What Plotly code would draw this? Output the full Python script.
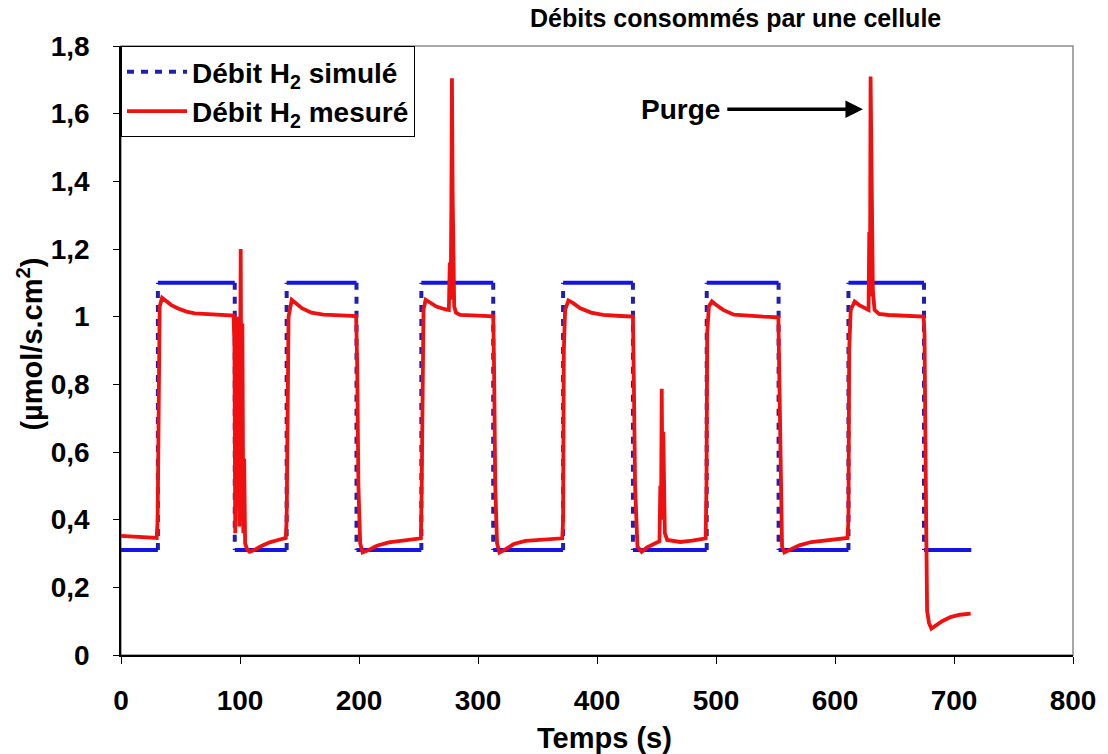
import plotly.graph_objects as go

# Simulated H2 flow: square wave between two levels, switching at these instants (s)
sim_start = 0.0
sim_end = 714.5
sim_switch_times = [31.0, 95.6, 139.2, 197.9, 252.4, 312.8, 371.5, 430.2, 492.2, 552.6, 611.3, 674.8]
sim_low = 0.31
sim_high = 1.10

# Measured H2 flow (s, µmol/s.cm²)
meas_time = [
    0, 10, 20, 30, 30.8, 31.3, 31.8, 32.5, 34.5, 38, 42, 48, 55, 62, 70, 80, 90, 94.6,
    95.3, 96.0, 96.7, 97.4, 98.1, 98.8, 99.5, 100.6, 101.3, 102.0, 102.8, 103.5, 104.3,
    106, 108, 112, 118, 125, 132, 138.5,
    139.2, 139.8, 140.8, 143.5, 147, 152, 160, 170, 185, 197.6,
    198.5, 199.5, 201, 203, 208, 215, 225, 240, 252,
    252.7, 253.3, 254.2, 256, 260, 265, 272, 275.5, 276.3, 277.0, 277.6, 278.1, 278.7,
    279.3, 280.0, 281.5, 285, 300, 312.8,
    313.5, 314.5, 316, 318, 322, 330, 340, 355, 370.8,
    371.5, 372.1, 373.2, 376, 380, 386, 395, 405, 420, 430.2,
    431, 432, 434, 437.5, 442, 448, 452.5, 453.2, 453.8, 454.4, 455.0, 455.7, 457, 459,
    470, 480, 491.3,
    492.0, 492.6, 494, 496.5, 500, 506, 515, 530, 540, 552.4,
    553.2, 554.2, 555.5, 557.5, 562, 570, 580, 595, 610.5,
    611.3, 611.9, 613.2, 616.5, 620, 625, 628.2, 628.8, 629.4, 629.9, 630.5, 631.1,
    631.8, 633.2, 637, 645, 660, 674.5,
    675.2, 675.8, 676.6, 677.4, 679, 681, 685, 690, 697, 705, 714,
]
meas_flow = [
    0.352, 0.350, 0.348, 0.346, 0.40, 0.66, 0.98, 1.03, 1.056, 1.045, 1.035, 1.024, 1.015, 1.010, 1.008, 1.006, 1.005, 1.003,
    0.92, 0.36, 0.62, 1.00, 0.45, 0.88, 0.38, 1.20, 0.52, 0.98, 0.36, 0.58, 0.33,
    0.312, 0.305, 0.310, 0.322, 0.333, 0.340, 0.346,
    0.40, 0.68, 1.00, 1.050, 1.040, 1.025, 1.012, 1.006, 1.004, 1.002,
    0.85, 0.50, 0.33, 0.303, 0.310, 0.323, 0.333, 0.340, 0.345,
    0.50, 0.90, 1.02, 1.050, 1.040, 1.030, 1.022, 1.020, 1.16, 1.05, 1.32, 1.705, 1.36,
    1.16, 1.03, 1.012, 1.005, 1.003, 1.001,
    0.85, 0.50, 0.33, 0.303, 0.310, 0.328, 0.337, 0.342, 0.345,
    0.40, 0.90, 1.02, 1.048, 1.040, 1.025, 1.012, 1.005, 1.002, 1.000,
    0.80, 0.50, 0.32, 0.305, 0.318, 0.328, 0.336, 0.50, 0.40, 0.787, 0.48, 0.66, 0.36, 0.340,
    0.334, 0.338, 0.345,
    0.50, 0.95, 1.03, 1.045, 1.035, 1.020, 1.006, 1.001, 1.000, 0.998,
    0.80, 0.45, 0.32, 0.303, 0.310, 0.324, 0.334, 0.340, 0.346,
    0.40, 0.90, 1.02, 1.045, 1.035, 1.026, 1.020, 1.25, 1.06, 1.71, 1.40, 1.27,
    1.08, 1.020, 1.008, 1.005, 1.003, 1.000,
    0.95, 0.80, 0.40, 0.13, 0.095, 0.078, 0.088, 0.100, 0.112, 0.119, 0.122,
]

y_tick_values = [0, 0.2, 0.4, 0.6, 0.8, 1.0, 1.2, 1.4, 1.6, 1.8]
y_tick_labels = ["0", "0,2", "0,4", "0,6", "0,8", "1", "1,2", "1,4", "1,6", "1,8"]
x_tick_values = [0, 100, 200, 300, 400, 500, 600, 700, 800]

# Build the step outline of the simulated signal: flat parts and vertical switches
edges = [sim_start] + sim_switch_times + [sim_end]
flat_x, flat_y, jump_x, jump_y = [], [], [], []
level = sim_low
for i in range(len(edges) - 1):
    flat_x += [edges[i], edges[i + 1], None]
    flat_y += [level, level, None]
    if i < len(sim_switch_times):
        nxt = sim_high if level == sim_low else sim_low
        jump_x += [edges[i + 1], edges[i + 1], None]
        jump_y += [level, nxt, None]
        level = nxt

BLUE = "#1414E6"
RED = "#F01010"
FONT = "Liberation Sans, Arial, sans-serif"

fig = go.Figure()
fig.add_trace(go.Scatter(
    x=jump_x, y=jump_y, mode="lines", name="Débit H<sub>2</sub> simulé",
    line=dict(color="#2020B0", width=4, dash="7px,7px"), legendrank=1,
))
fig.add_trace(go.Scatter(
    x=flat_x, y=flat_y, mode="lines", showlegend=False,
    line=dict(color=BLUE, width=4),
))
fig.add_trace(go.Scatter(
    x=meas_time, y=meas_flow, mode="lines", name="Débit H<sub>2</sub> mesuré",
    line=dict(color=RED, width=3.8), legendrank=2,
))

fig.update_layout(
    width=1108, height=754,
    margin=dict(l=121, r=33, t=46, b=99),
    paper_bgcolor="white", plot_bgcolor="white",
    font=dict(family=FONT, size=28, color="black", weight="bold"),
    showlegend=True,
    legend=dict(
        x=0, y=1, xanchor="left", yanchor="top",
        bgcolor="white", bordercolor="black", borderwidth=1,
        font=dict(family=FONT, size=28, weight="bold"),
        tracegroupgap=0, itemwidth=60,
    ),
    xaxis=dict(
        range=[0, 800], tickvals=x_tick_values, showgrid=False, zeroline=False,
        showline=True, linecolor="black", linewidth=1.5,
        ticks="outside", ticklen=7, tickwidth=1.2, tickcolor="black",
        ticklabelstandoff=13,
    ),
    yaxis=dict(
        range=[0, 1.8], tickvals=y_tick_values, ticktext=y_tick_labels,
        showgrid=False, zeroline=False,
        showline=True, linecolor="black", linewidth=1.5,
        ticks="outside", ticklen=6, tickwidth=1.2, tickcolor="black",
        ticklabelstandoff=18,
    ),
    shapes=[dict(
        type="rect", xref="paper", yref="paper", x0=0, x1=1, y0=0, y1=1,
        line=dict(color="#8C8C8C", width=1.5), layer="below",
    )],
    annotations=[
        dict(text="Débits consommés par une cellule", xref="paper", yref="paper",
             x=0.645, y=1.046, xanchor="center", yanchor="middle", showarrow=False,
             font=dict(family=FONT, size=25, weight="bold")),
        dict(text="Temps (s)", xref="paper", yref="paper",
             x=0.508, y=-0.136, xanchor="center", yanchor="middle", showarrow=False,
             font=dict(family=FONT, size=29, weight="bold")),
        dict(text="(µmol/s.cm<sup>2</sup>)", xref="paper", yref="paper",
             x=-0.0954, y=0.51, xanchor="center", yanchor="middle", showarrow=False,
             textangle=-90, font=dict(family=FONT, size=29, weight="bold")),
        dict(text="Purge", xref="x", yref="y", x=623.5, y=1.613,
             axref="x", ayref="y", ax=470, ay=1.613, borderpad=7,
             showarrow=True, arrowhead=2, arrowsize=1, arrowwidth=3.5, arrowcolor="black",
             font=dict(family=FONT, size=28, weight="bold")),
    ],
)

fig.write_html("out.html")
